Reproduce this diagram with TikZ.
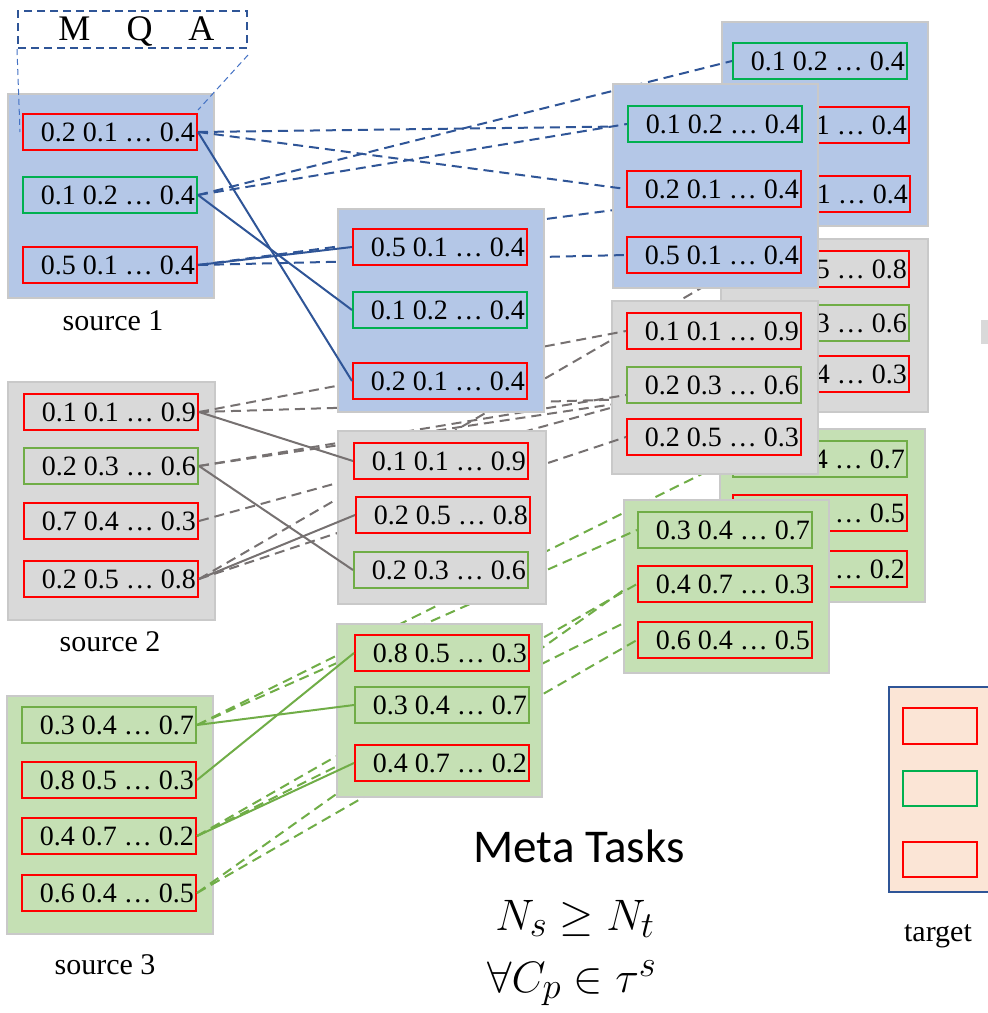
\documentclass[tikz,border=0pt]{standalone}
\usepackage{fontspec}
\setmainfont{Liberation Serif}
\newfontfamily\calibri{Carlito}
\usetikzlibrary{calc}
\definecolor{bfill}{HTML}{B4C7E7}
\definecolor{gfill}{HTML}{D9D9D9}
\definecolor{lfill}{HTML}{C5E0B4}
\definecolor{tfill}{HTML}{FBE5D6}
\definecolor{oline}{HTML}{C9C9C9}
\definecolor{bred}{HTML}{FF0000}
\definecolor{bgreen}{HTML}{00B050}
\definecolor{lgreen}{HTML}{70AD47}
\definecolor{dblue}{HTML}{2F5597}
\definecolor{mblue}{HTML}{4472C4}
\definecolor{dgrey}{HTML}{767171}
\newcommand{\ibx}[5]{%
  \node[ibox, draw=#4] (#1) at (#2,#3) {};
  \node[itext] at ([xshift=-3pt]#1.east) {#5};}
\newcommand{\obx}[6]{%
  \node[obox, fill=#6, minimum width=#4pt, minimum height=#5pt] (#1) at (#2,#3) {};}
\begin{document}
\begin{tikzpicture}[x=1pt,y=-1pt,
  ibox/.style={rectangle, minimum width=174pt, minimum height=36pt, inner sep=0pt, line width=2pt},
  itext/.style={anchor=east, inner sep=0pt, font=\fontsize{28}{28}\selectfont},
  obox/.style={rectangle, anchor=north west, draw=oline, line width=2pt, inner sep=0pt},
  lbl/.style={inner sep=0pt, font=\fontsize{30}{30}\selectfont},
  sb/.style={draw=dblue, line width=2pt},
  sg/.style={draw=dgrey, line width=2pt},
  sl/.style={draw=lgreen, line width=2pt},
  db/.style={draw=dblue, line width=2pt, dash pattern=on 10pt off 6pt},
  dg/.style={draw=dgrey, line width=2pt, dash pattern=on 10pt off 6pt},
  dl/.style={draw=lgreen, line width=2pt, dash pattern=on 10pt off 6pt}]
\useasboundingbox (0,0) rectangle (988,1013);
% ---------- sources ----------
\obx{src1}{7}{93}{206}{204}{bfill}
\ibx{s1a}{110}{132}{bred}{0.2 0.1 … 0.4}
\ibx{s1b}{110}{195}{bgreen}{0.1 0.2 … 0.4}
\ibx{s1c}{110}{265}{bred}{0.5 0.1 … 0.4}
\node[lbl] (l1) at (113,321) {source 1};
\obx{src2}{7}{381}{207}{238}{gfill}
\ibx{s2a}{111}{412}{bred}{0.1 0.1 … 0.9}
\ibx{s2b}{111}{466}{lgreen}{0.2 0.3 … 0.6}
\ibx{s2c}{111}{521}{bred}{0.7 0.4 … 0.3}
\ibx{s2d}{111}{579}{bred}{0.2 0.5 … 0.8}
\node[lbl] (l2) at (110,642) {source 2};
\obx{src3}{6}{695}{206}{238}{lfill}
\ibx{s3a}{109}{725}{lgreen}{0.3 0.4 … 0.7}
\ibx{s3b}{109}{780}{bred}{0.8 0.5 … 0.3}
\ibx{s3c}{109}{836}{bred}{0.4 0.7 … 0.2}
\ibx{s3d}{109}{893}{bred}{0.6 0.4 … 0.5}
\node[lbl] (l3) at (105,965) {source 3};
% ---------- right back boxes (only the visible part of the text) ----------
\obx{R1b}{721}{21}{206}{204}{bfill}
\ibx{r1ba}{820}{61}{bgreen}{0.1 0.2 … 0.4}
\ibx{r1bb}{822}{125}{bred}{1 … 0.4}
\ibx{r1bc}{823}{194}{bred}{1 … 0.4}
\obx{R2b}{720}{238}{207}{173}{gfill}
\ibx{r2ba}{822}{269}{bred}{5 … 0.8}
\ibx{r2bb}{822}{323}{lgreen}{3 … 0.6}
\ibx{r2bc}{822}{374}{bred}{4 … 0.3}
\obx{R3b}{719}{428}{205}{173}{lfill}
\ibx{r3ba}{820}{459}{lgreen}{4 … 0.7}
\ibx{r3bb}{820}{513}{bred}{… 0.5}
\ibx{r3bc}{820}{569}{bred}{… 0.2}
\coordinate (h1) at (735,396);
\coordinate (h2) at (735,386);
% ---------- dashed to back ----------
\draw[db] (s1a.east) -- (r1bb.west);
\draw[db] (s1b.east) -- (r1ba.west);
\draw[db] (s1c.east) -- (r1bc.west);
\draw[dg] (s2a.east) -- (h1);
\draw[dg] (s2b.east) -- (h2);
\draw[dg] (s2c.east) -- (r2bc.west);
\draw[dg] (s2d.east) -- (r2ba.west);
\draw[dl] (s3a.east) -- (r3ba.west);
\draw[dl] (s3c.east) -- (r3bc.west);
\draw[dl] (s3d.east) -- (r3bb.west);
% ---------- right front boxes ----------
\obx{R1f}{612}{83}{205}{204}{bfill}
\ibx{r1fa}{715}{124}{bgreen}{0.1 0.2 … 0.4}
\ibx{r1fb}{714}{189}{bred}{0.2 0.1 … 0.4}
\ibx{r1fc}{714}{255}{bred}{0.5 0.1 … 0.4}
\obx{R2f}{611}{300}{206}{173}{gfill}
\ibx{r2fa}{714}{331}{bred}{0.1 0.1 … 0.9}
\ibx{r2fb}{714}{385}{lgreen}{0.2 0.3 … 0.6}
\ibx{r2fc}{714}{437}{bred}{0.2 0.5 … 0.3}
\obx{R3f}{623}{499}{205}{173}{lfill}
\ibx{r3fa}{725}{530}{lgreen}{0.3 0.4 … 0.7}
\ibx{r3fb}{725}{584}{bred}{0.4 0.7 … 0.3}
\ibx{r3fc}{725}{640}{bred}{0.6 0.4 … 0.5}
% ---------- dashed to front ----------
\draw[db] (s1a.east) -- (r1fb.west);
\draw[db] (s1b.east) -- (r1fa.west);
\draw[db] (s1c.east) -- (r1fc.west);
\draw[dg] (s2a.east) -- (r2fa.west);
\draw[dg] (s2b.east) -- ([yshift=-10pt]r2fb.west);
\draw[dg] (s2d.east) -- (r2fc.west);
\draw[dl] (s3a.east) -- (r3fa.west);
\draw[dl] (s3c.east) -- (r3fb.west);
\draw[dl] (s3d.east) -- (r3fc.west);
% ---------- middle boxes ----------
\obx{M1}{337}{208}{206}{203}{bfill}
\ibx{m1a}{440}{247}{bred}{0.5 0.1 … 0.4}
\ibx{m1b}{440}{310}{bgreen}{0.1 0.2 … 0.4}
\ibx{m1c}{440}{381}{bred}{0.2 0.1 … 0.4}
\obx{M2}{337}{430}{208}{173}{gfill}
\ibx{m2a}{441}{461}{bred}{0.1 0.1 … 0.9}
\ibx{m2b}{443}{515}{bred}{0.2 0.5 … 0.8}
\ibx{m2c}{441}{570}{lgreen}{0.2 0.3 … 0.6}
\obx{M3}{336}{623}{205}{173}{lfill}
\ibx{m3a}{442}{653}{bred}{0.8 0.5 … 0.3}
\ibx{m3b}{442}{705}{lgreen}{0.3 0.4 … 0.7}
\ibx{m3c}{442}{763}{bred}{0.4 0.7 … 0.2}
% ---------- solid ----------
\draw[sb] (s1a.east) -- (m1c.west);
\draw[sb] (s1b.east) -- (m1b.west);
\draw[sb] (s1c.east) -- (m1a.west);
\draw[sg] (s2a.east) -- (m2a.west);
\draw[sg] (s2b.east) -- (m2c.west);
\draw[sg] (s2d.east) -- (m2b.west);
\draw[sl] (s3a.east) -- (m3b.west);
\draw[sl] (s3b.east) -- (m3a.west);
\draw[sl] (s3c.east) -- (m3c.west);
% ---------- MQA ----------
\node[rectangle, draw=dblue, line width=2pt, dash pattern=on 8pt off 5pt, minimum width=229pt, minimum height=37pt, anchor=north west, inner sep=0pt] (mqa) at (17,10) {};
\node[inner sep=0pt, font=\fontsize{36}{36}\selectfont] (mqat) at ([xshift=4pt,yshift=-2pt]mqa.center) {M\hspace{1em}Q\hspace{1em}A};
\coordinate (mqal) at (20,132);
\coordinate (mqar) at (198,110);
\draw[mblue, line width=1pt, dash pattern=on 6pt off 4pt] (mqa.south west) -- (mqal);
\draw[mblue, line width=1pt, dash pattern=on 6pt off 4pt] ([yshift=-6pt]mqa.south east) -- (mqar);
% ---------- target ----------
\node[rectangle, draw=dblue, fill=tfill, line width=2pt, anchor=north west, minimum width=110pt, minimum height=205pt, inner sep=0pt] (tgt) at (888,686) {};
\node[rectangle, draw=bred, line width=2pt, minimum width=74pt, minimum height=36pt, inner sep=0pt] (t1) at (940,726) {};
\node[rectangle, draw=bgreen, line width=2pt, minimum width=74pt, minimum height=35pt, inner sep=0pt] (t2) at (940,788) {};
\node[rectangle, draw=bred, line width=2pt, minimum width=74pt, minimum height=35pt, inner sep=0pt] (t3) at (940,859) {};
\node[lbl] (lt) at (938,936) {target};
\node[rectangle, fill=gfill, minimum width=10pt, minimum height=24pt, inner sep=0pt, anchor=north west] (cut) at (981,320) {};
% ---------- meta tasks ----------
\node[inner sep=0pt, font=\calibri\fontsize{47}{47}\selectfont] (meta) at (579,846) {Meta Tasks};
\node[inner sep=0pt, anchor=base] (eq1) at (575,930) {\scalebox{1.77}{\Huge $N_s \geq N_t$}};
\node[inner sep=0pt, anchor=base] (eq2) at (572,992) {\scalebox{1.77}{\Huge $\forall C_p \in \tau^s$}};
\end{tikzpicture}
\end{document}
